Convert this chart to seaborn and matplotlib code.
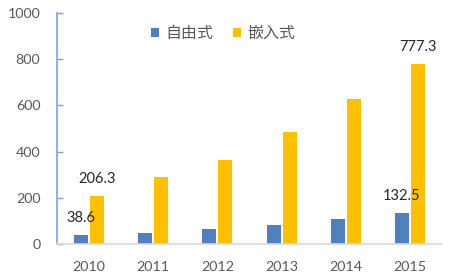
import matplotlib
matplotlib.use("Agg")
import matplotlib.pyplot as plt
import seaborn as sns
import pandas as pd

years = ["2010", "2011", "2012", "2013", "2014", "2015"]
free_vals = [38.6, 48, 65, 84, 107, 132.5]
embed_vals = [206.3, 289, 362, 485, 626, 777.3]
series_names = ["自由式", "嵌入式"]
label_map = {("自由式", "2010"): "38.6", ("嵌入式", "2010"): "206.3",
             ("自由式", "2015"): "132.5", ("嵌入式", "2015"): "777.3"}

df = pd.DataFrame({
    "year": years * 2,
    "value": free_vals + embed_vals,
    "series": [series_names[0]] * len(years) + [series_names[1]] * len(years),
})

sns.set_theme(style="white")
plt.rcParams["font.family"] = ["Lato", "Noto Sans CJK SC", "DejaVu Sans"]

fig = plt.figure(figsize=(4.54, 2.78), dpi=100)
ax = fig.add_axes([57 / 454, 34 / 278, 385 / 454, 231 / 278])

palette = {"自由式": "#4F81BD", "嵌入式": "#FFC000"}
sns.barplot(data=df, x="year", y="value", hue="series", palette=palette,
            width=0.5, gap=0.125, ax=ax, edgecolor="none", saturation=1)

ax.set_ylim(0, 1000)
ax.set_yticks([0, 200, 400, 600, 800, 1000])
ax.set_xlabel("")
ax.set_ylabel("")

for s in ["top", "right"]:
    ax.spines[s].set_visible(False)
ax.spines["left"].set_color("#7FA3D3")
ax.spines["left"].set_linewidth(1.2)
ax.spines["bottom"].set_color("#D9D9D9")
ax.spines["bottom"].set_linewidth(1.2)

ax.tick_params(axis="y", direction="in", length=4, width=1, color="#7FA3D3",
               labelsize=10.3, labelcolor="#595959", pad=12, left=True)
ax.tick_params(axis="x", length=0, labelsize=10.3, labelcolor="#595959", pad=12)

# data labels
for cont, name in zip(ax.containers, series_names):
    for bar, yr in zip(cont, years):
        key = (name, yr)
        if key in label_map:
            ax.annotate(label_map[key],
                        (bar.get_x() + bar.get_width() / 2, bar.get_height()),
                        xytext=(0, 12.5), textcoords="offset points",
                        ha="center", va="center", fontsize=10.5, color="#262626")

leg = ax.legend(loc="center", bbox_to_anchor=(0.431, 0.911), ncol=2, frameon=False,
                fontsize=11.5, handlelength=0.5, handleheight=0.5,
                handletextpad=0.4, columnspacing=1.2, labelcolor="#595959")

fig.savefig("out.png", dpi=100)
